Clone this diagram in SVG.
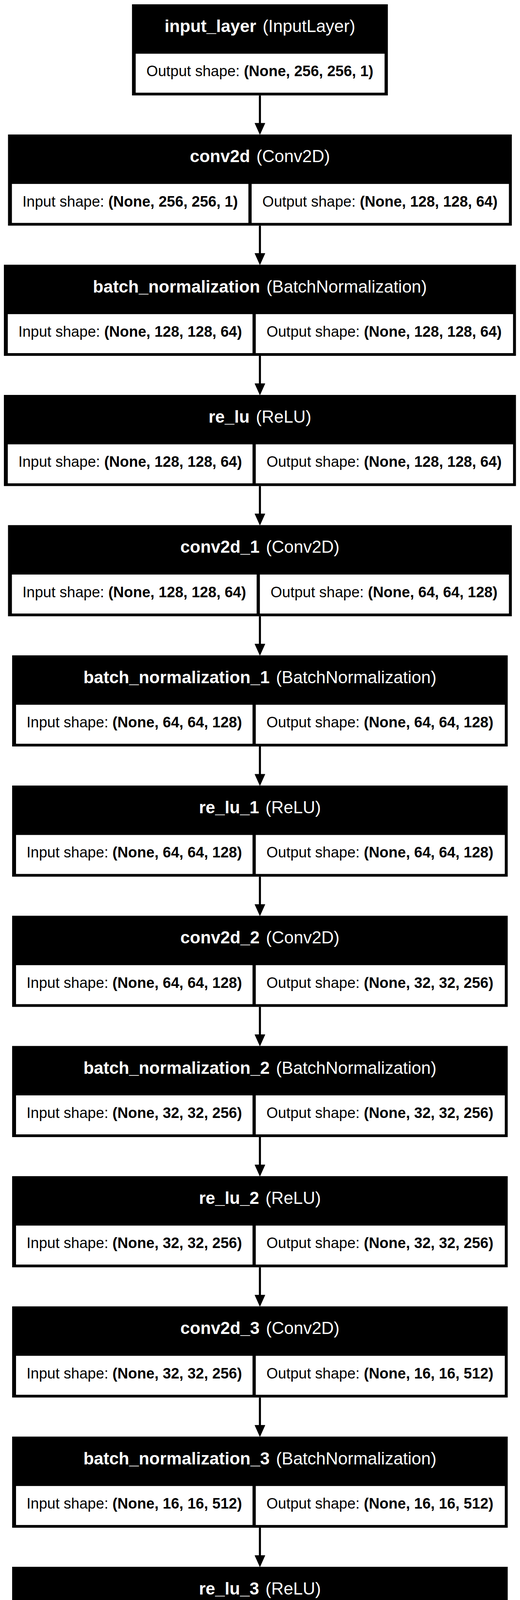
<svg xmlns="http://www.w3.org/2000/svg" width="1331" height="7589" viewBox="0 0 1331 7589">
<style>
.h{font-family:"Liberation Sans",Arial,sans-serif;font-size:44px;fill:#fff;text-anchor:middle}
.c{font-family:"Liberation Sans",Arial,sans-serif;font-size:38px;fill:#000;text-anchor:middle}
.b{font-weight:bold}
.box{fill:#000}
.cell{fill:#fff}
.edge line{stroke:#000;stroke-width:5.3}
.edge polygon{fill:#000;stroke:#000;stroke-width:1}
</style>
<rect x="0" y="0" width="1331" height="7589" fill="#fff"/>
<g id="connectors">
<g class="edge" transform="translate(0,344.33)"><line x1="665.3" y1="-100" x2="665.3" y2="-28"/><polygon points="652.3,-29 678.3,-29 665.3,0"/></g>
<g class="edge" transform="translate(0,677.67)"><line x1="665.3" y1="-100" x2="665.3" y2="-28"/><polygon points="652.3,-29 678.3,-29 665.3,0"/></g>
<g class="edge" transform="translate(0,1011)"><line x1="665.3" y1="-100" x2="665.3" y2="-28"/><polygon points="652.3,-29 678.3,-29 665.3,0"/></g>
<g class="edge" transform="translate(0,1344.33)"><line x1="665.3" y1="-100" x2="665.3" y2="-28"/><polygon points="652.3,-29 678.3,-29 665.3,0"/></g>
<g class="edge" transform="translate(0,1677.67)"><line x1="665.3" y1="-100" x2="665.3" y2="-28"/><polygon points="652.3,-29 678.3,-29 665.3,0"/></g>
<g class="edge" transform="translate(0,2011)"><line x1="665.3" y1="-100" x2="665.3" y2="-28"/><polygon points="652.3,-29 678.3,-29 665.3,0"/></g>
<g class="edge" transform="translate(0,2344.33)"><line x1="665.3" y1="-100" x2="665.3" y2="-28"/><polygon points="652.3,-29 678.3,-29 665.3,0"/></g>
<g class="edge" transform="translate(0,2677.67)"><line x1="665.3" y1="-100" x2="665.3" y2="-28"/><polygon points="652.3,-29 678.3,-29 665.3,0"/></g>
<g class="edge" transform="translate(0,3011)"><line x1="665.3" y1="-100" x2="665.3" y2="-28"/><polygon points="652.3,-29 678.3,-29 665.3,0"/></g>
<g class="edge" transform="translate(0,3344.33)"><line x1="665.3" y1="-100" x2="665.3" y2="-28"/><polygon points="652.3,-29 678.3,-29 665.3,0"/></g>
<g class="edge" transform="translate(0,3677.67)"><line x1="665.3" y1="-100" x2="665.3" y2="-28"/><polygon points="652.3,-29 678.3,-29 665.3,0"/></g>
<g class="edge" transform="translate(0,4011)"><line x1="665.3" y1="-100" x2="665.3" y2="-28"/><polygon points="652.3,-29 678.3,-29 665.3,0"/></g>
<g class="edge" transform="translate(0,4344.33)"><line x1="665.3" y1="-100" x2="665.3" y2="-28"/><polygon points="652.3,-29 678.3,-29 665.3,0"/></g>
<g class="edge" transform="translate(0,4677.67)"><line x1="665.3" y1="-100" x2="665.3" y2="-28"/><polygon points="652.3,-29 678.3,-29 665.3,0"/></g>
<g class="edge" transform="translate(0,5011)"><line x1="665.3" y1="-100" x2="665.3" y2="-28"/><polygon points="652.3,-29 678.3,-29 665.3,0"/></g>
<g class="edge" transform="translate(0,5344.33)"><line x1="665.3" y1="-100" x2="665.3" y2="-28"/><polygon points="652.3,-29 678.3,-29 665.3,0"/></g>
<g class="edge" transform="translate(0,5677.67)"><line x1="665.3" y1="-100" x2="665.3" y2="-28"/><polygon points="652.3,-29 678.3,-29 665.3,0"/></g>
<g class="edge" transform="translate(0,6011)"><line x1="665.3" y1="-100" x2="665.3" y2="-28"/><polygon points="652.3,-29 678.3,-29 665.3,0"/></g>
<g class="edge" transform="translate(0,6344.33)"><line x1="665.3" y1="-100" x2="665.3" y2="-28"/><polygon points="652.3,-29 678.3,-29 665.3,0"/></g>
<g class="edge" transform="translate(0,6677.67)"><line x1="665.3" y1="-100" x2="665.3" y2="-28"/><polygon points="652.3,-29 678.3,-29 665.3,0"/></g>
<g class="edge" transform="translate(0,7011)"><line x1="665.3" y1="-100" x2="665.3" y2="-28"/><polygon points="652.3,-29 678.3,-29 665.3,0"/></g>
<g class="edge" transform="translate(0,7344.33)"><line x1="665.3" y1="-100" x2="665.3" y2="-28"/><polygon points="652.3,-29 678.3,-29 665.3,0"/></g>
</g>

<g id="input_layer" transform="translate(0,11)">
<rect class="box" x="337.85" y="0" width="654.9" height="233.3"/>
<text class="h" x="665.3" y="71"><tspan class="b">input_layer</tspan><tspan dx="4"> (InputLayer)</tspan></text>
<rect class="cell" x="347.35" y="126.5" width="637" height="99.8"/>
<text class="c" x="665.3" y="184.3">Output shape: <tspan class="b">(None, 256, 256, 1)</tspan></text>
</g>

<g id="conv2d" transform="translate(0,344.33)">
<rect class="box" x="20.5" y="0" width="1289.6" height="233.3"/>
<text class="h" x="665.3" y="71"><tspan class="b">conv2d</tspan><tspan dx="4"> (Conv2D)</tspan></text>
<rect class="cell" x="30.5" y="126.5" width="605.3" height="99.8"/>
<rect class="cell" x="644.1" y="126.5" width="658.5" height="99.8"/>
<text class="c" x="333.15" y="184.3">Input shape: <tspan class="b">(None, 256, 256, 1)</tspan></text>
<text class="c" x="972.6" y="184.3">Output shape: <tspan class="b">(None, 128, 128, 64)</tspan></text>
</g>

<g id="batch_normalization" transform="translate(0,677.67)">
<rect class="box" x="9.95" y="0" width="1310.7" height="233.3"/>
<text class="h" x="665.3" y="71"><tspan class="b">batch_normalization</tspan><tspan dx="4"> (BatchNormalization)</tspan></text>
<rect class="cell" x="19.95" y="126.5" width="626.4" height="99.8"/>
<rect class="cell" x="654.65" y="126.5" width="658.5" height="99.8"/>
<text class="c" x="333.15" y="184.3">Input shape: <tspan class="b">(None, 128, 128, 64)</tspan></text>
<text class="c" x="983.2" y="184.3">Output shape: <tspan class="b">(None, 128, 128, 64)</tspan></text>
</g>

<g id="re_lu" transform="translate(0,1011)">
<rect class="box" x="9.95" y="0" width="1310.7" height="233.3"/>
<text class="h" x="665.3" y="71"><tspan class="b">re_lu</tspan><tspan dx="4"> (ReLU)</tspan></text>
<rect class="cell" x="19.95" y="126.5" width="626.4" height="99.8"/>
<rect class="cell" x="654.65" y="126.5" width="658.5" height="99.8"/>
<text class="c" x="333.15" y="184.3">Input shape: <tspan class="b">(None, 128, 128, 64)</tspan></text>
<text class="c" x="983.2" y="184.3">Output shape: <tspan class="b">(None, 128, 128, 64)</tspan></text>
</g>

<g id="conv2d_1" transform="translate(0,1344.33)">
<rect class="box" x="20.5" y="0" width="1289.6" height="233.3"/>
<text class="h" x="665.3" y="71"><tspan class="b">conv2d_1</tspan><tspan dx="4"> (Conv2D)</tspan></text>
<rect class="cell" x="30.5" y="126.5" width="626.4" height="99.8"/>
<rect class="cell" x="665.2" y="126.5" width="637.4" height="99.8"/>
<text class="c" x="343.7" y="184.3">Input shape: <tspan class="b">(None, 128, 128, 64)</tspan></text>
<text class="c" x="982.9" y="184.3">Output shape: <tspan class="b">(None, 64, 64, 128)</tspan></text>
</g>

<g id="batch_normalization_1" transform="translate(0,1677.67)">
<rect class="box" x="31.05" y="0" width="1268.5" height="233.3"/>
<text class="h" x="665.3" y="71"><tspan class="b">batch_normalization_1</tspan><tspan dx="4"> (BatchNormalization)</tspan></text>
<rect class="cell" x="41.05" y="126.5" width="605.3" height="99.8"/>
<rect class="cell" x="654.65" y="126.5" width="637.4" height="99.8"/>
<text class="c" x="343.7" y="184.3">Input shape: <tspan class="b">(None, 64, 64, 128)</tspan></text>
<text class="c" x="972.4" y="184.3">Output shape: <tspan class="b">(None, 64, 64, 128)</tspan></text>
</g>

<g id="re_lu_1" transform="translate(0,2011)">
<rect class="box" x="31.05" y="0" width="1268.5" height="233.3"/>
<text class="h" x="665.3" y="71"><tspan class="b">re_lu_1</tspan><tspan dx="4"> (ReLU)</tspan></text>
<rect class="cell" x="41.05" y="126.5" width="605.3" height="99.8"/>
<rect class="cell" x="654.65" y="126.5" width="637.4" height="99.8"/>
<text class="c" x="343.7" y="184.3">Input shape: <tspan class="b">(None, 64, 64, 128)</tspan></text>
<text class="c" x="972.4" y="184.3">Output shape: <tspan class="b">(None, 64, 64, 128)</tspan></text>
</g>

<g id="conv2d_2" transform="translate(0,2344.33)">
<rect class="box" x="31.05" y="0" width="1268.5" height="233.3"/>
<text class="h" x="665.3" y="71"><tspan class="b">conv2d_2</tspan><tspan dx="4"> (Conv2D)</tspan></text>
<rect class="cell" x="41.05" y="126.5" width="605.3" height="99.8"/>
<rect class="cell" x="654.65" y="126.5" width="637.4" height="99.8"/>
<text class="c" x="343.7" y="184.3">Input shape: <tspan class="b">(None, 64, 64, 128)</tspan></text>
<text class="c" x="972.4" y="184.3">Output shape: <tspan class="b">(None, 32, 32, 256)</tspan></text>
</g>

<g id="batch_normalization_2" transform="translate(0,2677.67)">
<rect class="box" x="31.05" y="0" width="1268.5" height="233.3"/>
<text class="h" x="665.3" y="71"><tspan class="b">batch_normalization_2</tspan><tspan dx="4"> (BatchNormalization)</tspan></text>
<rect class="cell" x="41.05" y="126.5" width="605.3" height="99.8"/>
<rect class="cell" x="654.65" y="126.5" width="637.4" height="99.8"/>
<text class="c" x="343.7" y="184.3">Input shape: <tspan class="b">(None, 32, 32, 256)</tspan></text>
<text class="c" x="972.4" y="184.3">Output shape: <tspan class="b">(None, 32, 32, 256)</tspan></text>
</g>

<g id="re_lu_2" transform="translate(0,3011)">
<rect class="box" x="31.05" y="0" width="1268.5" height="233.3"/>
<text class="h" x="665.3" y="71"><tspan class="b">re_lu_2</tspan><tspan dx="4"> (ReLU)</tspan></text>
<rect class="cell" x="41.05" y="126.5" width="605.3" height="99.8"/>
<rect class="cell" x="654.65" y="126.5" width="637.4" height="99.8"/>
<text class="c" x="343.7" y="184.3">Input shape: <tspan class="b">(None, 32, 32, 256)</tspan></text>
<text class="c" x="972.4" y="184.3">Output shape: <tspan class="b">(None, 32, 32, 256)</tspan></text>
</g>

<g id="conv2d_3" transform="translate(0,3344.33)">
<rect class="box" x="31.05" y="0" width="1268.5" height="233.3"/>
<text class="h" x="665.3" y="71"><tspan class="b">conv2d_3</tspan><tspan dx="4"> (Conv2D)</tspan></text>
<rect class="cell" x="41.05" y="126.5" width="605.3" height="99.8"/>
<rect class="cell" x="654.65" y="126.5" width="637.4" height="99.8"/>
<text class="c" x="343.7" y="184.3">Input shape: <tspan class="b">(None, 32, 32, 256)</tspan></text>
<text class="c" x="972.4" y="184.3">Output shape: <tspan class="b">(None, 16, 16, 512)</tspan></text>
</g>

<g id="batch_normalization_3" transform="translate(0,3677.67)">
<rect class="box" x="31.05" y="0" width="1268.5" height="233.3"/>
<text class="h" x="665.3" y="71"><tspan class="b">batch_normalization_3</tspan><tspan dx="4"> (BatchNormalization)</tspan></text>
<rect class="cell" x="41.05" y="126.5" width="605.3" height="99.8"/>
<rect class="cell" x="654.65" y="126.5" width="637.4" height="99.8"/>
<text class="c" x="343.7" y="184.3">Input shape: <tspan class="b">(None, 16, 16, 512)</tspan></text>
<text class="c" x="972.4" y="184.3">Output shape: <tspan class="b">(None, 16, 16, 512)</tspan></text>
</g>

<g id="re_lu_3" transform="translate(0,4011)">
<rect class="box" x="31.05" y="0" width="1268.5" height="233.3"/>
<text class="h" x="665.3" y="71"><tspan class="b">re_lu_3</tspan><tspan dx="4"> (ReLU)</tspan></text>
<rect class="cell" x="41.05" y="126.5" width="605.3" height="99.8"/>
<rect class="cell" x="654.65" y="126.5" width="637.4" height="99.8"/>
<text class="c" x="343.7" y="184.3">Input shape: <tspan class="b">(None, 16, 16, 512)</tspan></text>
<text class="c" x="972.4" y="184.3">Output shape: <tspan class="b">(None, 16, 16, 512)</tspan></text>
</g>

<g id="conv2d_transpose" transform="translate(0,4344.33)">
<rect class="box" x="31.05" y="0" width="1268.5" height="233.3"/>
<text class="h" x="665.3" y="71"><tspan class="b">conv2d_transpose</tspan><tspan dx="4"> (Conv2DTranspose)</tspan></text>
<rect class="cell" x="41.05" y="126.5" width="605.3" height="99.8"/>
<rect class="cell" x="654.65" y="126.5" width="637.4" height="99.8"/>
<text class="c" x="343.7" y="184.3">Input shape: <tspan class="b">(None, 16, 16, 512)</tspan></text>
<text class="c" x="972.4" y="184.3">Output shape: <tspan class="b">(None, 32, 32, 256)</tspan></text>
</g>

<g id="batch_normalization_4" transform="translate(0,4677.67)">
<rect class="box" x="31.05" y="0" width="1268.5" height="233.3"/>
<text class="h" x="665.3" y="71"><tspan class="b">batch_normalization_4</tspan><tspan dx="4"> (BatchNormalization)</tspan></text>
<rect class="cell" x="41.05" y="126.5" width="605.3" height="99.8"/>
<rect class="cell" x="654.65" y="126.5" width="637.4" height="99.8"/>
<text class="c" x="343.7" y="184.3">Input shape: <tspan class="b">(None, 32, 32, 256)</tspan></text>
<text class="c" x="972.4" y="184.3">Output shape: <tspan class="b">(None, 32, 32, 256)</tspan></text>
</g>

<g id="re_lu_4" transform="translate(0,5011)">
<rect class="box" x="31.05" y="0" width="1268.5" height="233.3"/>
<text class="h" x="665.3" y="71"><tspan class="b">re_lu_4</tspan><tspan dx="4"> (ReLU)</tspan></text>
<rect class="cell" x="41.05" y="126.5" width="605.3" height="99.8"/>
<rect class="cell" x="654.65" y="126.5" width="637.4" height="99.8"/>
<text class="c" x="343.7" y="184.3">Input shape: <tspan class="b">(None, 32, 32, 256)</tspan></text>
<text class="c" x="972.4" y="184.3">Output shape: <tspan class="b">(None, 32, 32, 256)</tspan></text>
</g>

<g id="conv2d_transpose_1" transform="translate(0,5344.33)">
<rect class="box" x="31.05" y="0" width="1268.5" height="233.3"/>
<text class="h" x="665.3" y="71"><tspan class="b">conv2d_transpose_1</tspan><tspan dx="4"> (Conv2DTranspose)</tspan></text>
<rect class="cell" x="41.05" y="126.5" width="605.3" height="99.8"/>
<rect class="cell" x="654.65" y="126.5" width="637.4" height="99.8"/>
<text class="c" x="343.7" y="184.3">Input shape: <tspan class="b">(None, 32, 32, 256)</tspan></text>
<text class="c" x="972.4" y="184.3">Output shape: <tspan class="b">(None, 64, 64, 128)</tspan></text>
</g>

<g id="batch_normalization_5" transform="translate(0,5677.67)">
<rect class="box" x="31.05" y="0" width="1268.5" height="233.3"/>
<text class="h" x="665.3" y="71"><tspan class="b">batch_normalization_5</tspan><tspan dx="4"> (BatchNormalization)</tspan></text>
<rect class="cell" x="41.05" y="126.5" width="605.3" height="99.8"/>
<rect class="cell" x="654.65" y="126.5" width="637.4" height="99.8"/>
<text class="c" x="343.7" y="184.3">Input shape: <tspan class="b">(None, 64, 64, 128)</tspan></text>
<text class="c" x="972.4" y="184.3">Output shape: <tspan class="b">(None, 64, 64, 128)</tspan></text>
</g>

<g id="re_lu_5" transform="translate(0,6011)">
<rect class="box" x="31.05" y="0" width="1268.5" height="233.3"/>
<text class="h" x="665.3" y="71"><tspan class="b">re_lu_5</tspan><tspan dx="4"> (ReLU)</tspan></text>
<rect class="cell" x="41.05" y="126.5" width="605.3" height="99.8"/>
<rect class="cell" x="654.65" y="126.5" width="637.4" height="99.8"/>
<text class="c" x="343.7" y="184.3">Input shape: <tspan class="b">(None, 64, 64, 128)</tspan></text>
<text class="c" x="972.4" y="184.3">Output shape: <tspan class="b">(None, 64, 64, 128)</tspan></text>
</g>

<g id="conv2d_transpose_2" transform="translate(0,6344.33)">
<rect class="box" x="20.5" y="0" width="1289.6" height="233.3"/>
<text class="h" x="665.3" y="71"><tspan class="b">conv2d_transpose_2</tspan><tspan dx="4"> (Conv2DTranspose)</tspan></text>
<rect class="cell" x="30.5" y="126.5" width="605.3" height="99.8"/>
<rect class="cell" x="644.1" y="126.5" width="658.5" height="99.8"/>
<text class="c" x="333.15" y="184.3">Input shape: <tspan class="b">(None, 64, 64, 128)</tspan></text>
<text class="c" x="972.6" y="184.3">Output shape: <tspan class="b">(None, 128, 128, 64)</tspan></text>
</g>

<g id="batch_normalization_6" transform="translate(0,6677.67)">
<rect class="box" x="9.95" y="0" width="1310.7" height="233.3"/>
<text class="h" x="665.3" y="71"><tspan class="b">batch_normalization_6</tspan><tspan dx="4"> (BatchNormalization)</tspan></text>
<rect class="cell" x="19.95" y="126.5" width="626.4" height="99.8"/>
<rect class="cell" x="654.65" y="126.5" width="658.5" height="99.8"/>
<text class="c" x="333.15" y="184.3">Input shape: <tspan class="b">(None, 128, 128, 64)</tspan></text>
<text class="c" x="983.2" y="184.3">Output shape: <tspan class="b">(None, 128, 128, 64)</tspan></text>
</g>

<g id="re_lu_6" transform="translate(0,7011)">
<rect class="box" x="9.95" y="0" width="1310.7" height="233.3"/>
<text class="h" x="665.3" y="71"><tspan class="b">re_lu_6</tspan><tspan dx="4"> (ReLU)</tspan></text>
<rect class="cell" x="19.95" y="126.5" width="626.4" height="99.8"/>
<rect class="cell" x="654.65" y="126.5" width="658.5" height="99.8"/>
<text class="c" x="333.15" y="184.3">Input shape: <tspan class="b">(None, 128, 128, 64)</tspan></text>
<text class="c" x="983.2" y="184.3">Output shape: <tspan class="b">(None, 128, 128, 64)</tspan></text>
</g>

<g id="conv2d_transpose_3" transform="translate(0,7344.33)">
<rect class="box" x="20.5" y="0" width="1289.6" height="233.3"/>
<text class="h" x="665.3" y="71"><tspan class="b">conv2d_transpose_3</tspan><tspan dx="4"> (Conv2DTranspose)</tspan></text>
<rect class="cell" x="30.5" y="126.5" width="626.4" height="99.8"/>
<rect class="cell" x="665.2" y="126.5" width="637.4" height="99.8"/>
<text class="c" x="343.7" y="184.3">Input shape: <tspan class="b">(None, 128, 128, 64)</tspan></text>
<text class="c" x="982.9" y="184.3">Output shape: <tspan class="b">(None, 256, 256, 1)</tspan></text>
</g>
</svg>
